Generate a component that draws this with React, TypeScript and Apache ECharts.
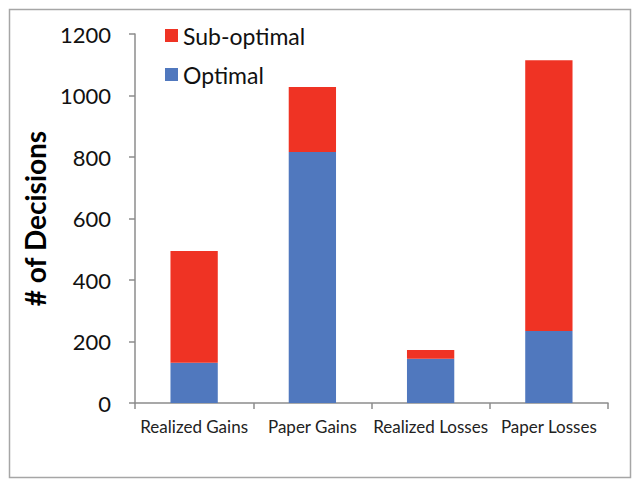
import React, { useEffect, useRef } from "react";
import * as echarts from "echarts";

const categories = ["Realized Gains", "Paper Gains", "Realized Losses", "Paper Losses"];
const optimal = [131, 816, 144, 234];
const subOptimal = [363, 212, 28, 881];
const yTicks = { min: 0, max: 1200, interval: 200 };

export default function App() {
  const ref = useRef<HTMLDivElement>(null);
  useEffect(() => {
    if (!ref.current) return;
    const chart = echarts.init(ref.current, null, { renderer: "svg" });
    const font = "Lato, 'Open Sans', sans-serif";
    chart.setOption({
      animation: false,
      backgroundColor: "#ffffff",
      graphic: [
        {
          type: "rect",
          shape: { x: 9.5, y: 9.5, width: 621, height: 468 },
          style: { fill: "none", stroke: "#a6a6a6", lineWidth: 1.5 },
          silent: true,
        },
      ],
      legend: {
        orient: "vertical",
        left: 160,
        top: 19,
        itemWidth: 13,
        itemHeight: 13,
        itemGap: 16,
        icon: "rect",
        data: ["Sub-optimal", "Optimal"],
        textStyle: { fontFamily: font, fontSize: 23, color: "#111" },
      },
      grid: { left: 135, right: 31, top: 34, bottom: 86, containLabel: false },
      xAxis: {
        type: "category",
        data: categories,
        boundaryGap: true,
        axisLine: { lineStyle: { color: "#8c8c8c", width: 1.5 } },
        axisTick: { show: true, length: 6, lineStyle: { color: "#8c8c8c", width: 1.5 } },
        axisLabel: { fontFamily: font, fontSize: 17, color: "#222", margin: 15, interval: 0 },
      },
      yAxis: {
        type: "value",
        min: yTicks.min,
        max: yTicks.max,
        interval: yTicks.interval,
        name: "# of Decisions",
        nameLocation: "middle",
        nameGap: 84,
        nameTextStyle: { fontFamily: font, fontSize: 28, fontWeight: "bold", color: "#000" },
        axisLine: { show: true, lineStyle: { color: "#8c8c8c", width: 1.5 } },
        axisTick: { show: true, length: 6, lineStyle: { color: "#8c8c8c", width: 1.5 } },
        splitLine: { show: false },
        axisLabel: {
          fontFamily: font,
          fontSize: 22,
          color: "#111",
          margin: 24,
          formatter: (v: number) => String(v),
        },
      },
      series: [
        {
          name: "Optimal",
          type: "bar",
          stack: "total",
          data: optimal,
          barWidth: "40%",
          itemStyle: { color: "#5078BE" },
        },
        {
          name: "Sub-optimal",
          type: "bar",
          stack: "total",
          data: subOptimal,
          barWidth: "40%",
          itemStyle: { color: "#EF3324" },
        },
      ],
    });
    return () => chart.dispose();
  }, []);
  return (
    <div
      ref={ref}
      style={{ position: "fixed", left: 0, top: 0, width: 639, height: 489 }}
    />
  );
}
